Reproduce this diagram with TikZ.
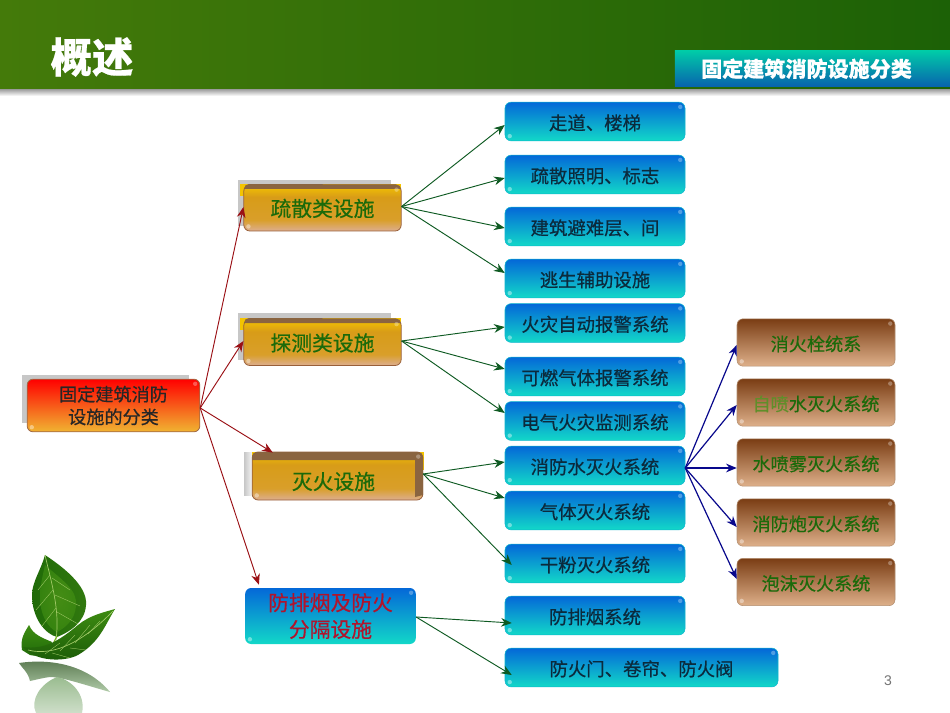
\documentclass[tikz,border=0pt]{standalone}
\usepackage{fontspec}
\setmainfont{Noto Sans CJK SC}[RawFeature={embolden=0.5}]
\newfontfamily\latinf{Liberation Sans}
\usetikzlibrary{arrows.meta,calc,fadings}
\definecolor{hdA}{HTML}{447A0A}
\definecolor{hdB}{HTML}{1C6106}
\definecolor{txtB}{HTML}{0B2A3C}
\definecolor{txtG}{HTML}{1B6A0A}
\definecolor{txtL}{HTML}{5F8F2A}
\definecolor{txtR}{HTML}{B0142C}
\definecolor{arR}{HTML}{9A0F14}
\definecolor{arG}{HTML}{0E5A22}
\definecolor{arB}{HTML}{08088C}
\definecolor{blTop}{HTML}{0468D8}
\definecolor{blBot}{HTML}{12D8C8}
\definecolor{brTop}{HTML}{7A3D14}
\definecolor{brBot}{HTML}{DEB08A}
\definecolor{orTop}{HTML}{F4C400}
\definecolor{orMid}{HTML}{D89C18}
\definecolor{orBot}{HTML}{DDAE90}
\definecolor{rtBot}{HTML}{F0B432}
\definecolor{leafD}{HTML}{1F6A08}
\definecolor{leafM}{HTML}{3E8C12}
\definecolor{leafL}{HTML}{7DB62A}
\definecolor{bdgTop}{HTML}{00CDA8}
\definecolor{bdgBot}{HTML}{0862AE}
\definecolor{bandC}{HTML}{8A6440}
\pgfdeclareverticalshading{orshade}{100bp}{color(0bp)=(orBot); color(25bp)=(orBot); color(37bp)=(orMid!85!orBot); color(62bp)=(orMid); color(75bp)=(orTop); color(100bp)=(orTop)}
\tikzset{
  x=0.75pt,y=-0.75pt,
  boxbase/.style={rounded corners=4.5pt,inner sep=0pt,align=center,text height=12.5pt,text depth=0pt},
  bluebox/.style={boxbase,top color=blTop,bottom color=blBot,draw=blBot!70!blTop,line width=.4pt,text=txtB,font=\fontsize{13.8}{16}\selectfont,minimum width=135pt,minimum height=29pt},
  brownbox/.style={boxbase,top color=brTop,bottom color=brBot,draw=brBot!80!black,line width=.4pt,text=txtG,font=\fontsize{13.6}{16}\selectfont,minimum width=118.5pt,minimum height=35.5pt},
  orangebox/.style={boxbase,shade,shading=orshade,draw=brTop!70!orBot,line width=.6pt,text=txtG,font=\fontsize{15.6}{18}\selectfont,minimum width=118pt,minimum height=34.5pt},
  rootbox/.style={rounded corners=4.5pt,inner sep=0pt,align=center,top color=red,bottom color=rtBot,draw=brTop!60!orBot,line width=.6pt,text=black!85,font=\fontsize{13.6}{17}\selectfont,minimum width=129.5pt,minimum height=39.5pt},
  smokebox/.style={rounded corners=4.5pt,inner sep=0pt,align=center,top color=blTop,bottom color=blBot,text=txtR,font=\fontsize{15.6}{20}\selectfont,minimum width=128pt,minimum height=42pt},
  arrowR/.style={-{Stealth[length=8pt,width=6.5pt]},draw=arR,line width=.7pt},
  arrowG/.style={-{Stealth[length=8pt,width=6.5pt]},draw=arG,line width=.7pt},
  arrowB/.style={-{Stealth[length=8pt,width=6.5pt]},draw=arB,line width=.9pt},
  vein/.style={draw=leafL!70!white,line width=.25pt},
}
\begin{document}
\begin{tikzpicture}
\useasboundingbox (0,0) rectangle (950,713);
\fill[white] (0,0) rectangle (950,713);
% header
\shade[top color=black!45,bottom color=white] (0,88) rectangle (950,96);
\shade[left color=hdA,right color=hdB] (0,0) rectangle (950,89);
\node[text=white,font=\fontsize{31}{33}\selectfont\bfseries,inner sep=0pt] (title) at (92,57) {概述};
\node[top color=bdgTop,bottom color=bdgBot,minimum width=206.5pt,minimum height=27.5pt,inner sep=0pt,text height=12.5pt,text depth=0pt,text=white,font=\fontsize{15.8}{18}\selectfont\bfseries] (badge) at (812.5,68.5) {固定建筑消防设施分类\hspace*{9pt}};
% backing layers of the raised boxes
\fill[black!22] (22,375) rectangle (189,423);
\fill[black!22] (238,180) rectangle (391,200);
\fill[black!22] (238,180) rectangle (246,226);
\fill[orTop] (240,184) rectangle (401,196);
\fill[black!22] (238,313) rectangle (391,333);
\fill[black!22] (238,313) rectangle (246,360);
\fill[orTop] (240,318) rectangle (401,330);
\shade[left color=black!22,right color=white] (244,452) rectangle (254,495);
\fill[orTop] (252,452) rectangle (424,470);
% nodes
\node[rootbox] (root) at (113.5,405.5) {固定建筑消防\\设施的分类};
\node[orangebox] (shus) at (322.5,208) {疏散类设施};
\node[orangebox] (tanc) at (322.5,342.5) {探测类设施};
\node[orangebox,minimum width=128pt,minimum height=36pt,text height=20pt] (miehuo) at (337.5,476) {\hspace*{-6pt}灭火设施};
\fill[bandC] (252,460) -- (252,457) arc[start angle=180,end angle=270,radius=5] -- (418,452) arc[start angle=-90,end angle=0,radius=5] -- (423,495) -- (415,497) -- (415,460) -- cycle;
\fill[bandC] (244,189) arc[start angle=180,end angle=270,radius=5] -- (396,184.5) arc[start angle=-90,end angle=0,radius=5] -- (401,189) -- cycle;
\fill[bandC] (244,323) arc[start angle=180,end angle=270,radius=5] -- (396,318.5) arc[start angle=-90,end angle=0,radius=5] -- (401,323) -- cycle;
\node[smokebox] (smoke) at (330.5,616) {防排烟及防火\\分隔设施};
\node[bluebox] (b1) at (595,121.5) {走道、楼梯};
\node[bluebox] (b2) at (595,174.5) {疏散照明、标志};
\node[bluebox] (b3) at (595,226.5) {建筑避难层、间};
\node[bluebox] (b4) at (595,278.5) {逃生辅助设施};
\node[bluebox] (c1) at (595,323) {火灾自动报警系统};
\node[bluebox] (c2) at (595,376.5) {可燃气体报警系统};
\node[bluebox] (c3) at (595,421) {电气火灾监测系统};
\node[bluebox] (d1) at (595,465.5) {消防水灭火系统};
\node[bluebox] (d2) at (595,510.5) {气体灭火系统};
\node[bluebox] (d3) at (595,563.5) {干粉灭火系统};
\node[bluebox] (e1) at (595,615.5) {防排烟系统};
\node[bluebox,minimum width=204.75pt] (e2) at (641.5,667.5) {防火门、卷帘、防火阀};
\node[brownbox] (f1) at (816,342.5) {消火栓统系};
\node[brownbox] (f2) at (816,402.5) {\textcolor{txtL}{自喷}水灭火系统};
\node[brownbox] (f3) at (816,462.5) {水喷雾灭火系统};
\node[brownbox] (f4) at (816,522.5) {消防炮灭火系统};
\node[brownbox] (f5) at (816,582) {泡沫灭火系统};
\foreach \n in {b1,b2,b3,b4,c1,c2,c3,d1,d2,d3,e1,e2,f1,f2,f3,f4,f5,root,shus,tanc,miehuo,smoke}{
  \fill[white,opacity=.3] ($(\n.north east)+(-5,5)$) circle (2.2);
  \fill[white,opacity=.4] ($(\n.south west)+(5,-5)$) circle (2.2);
}
% connectors
\coordinate (toMie) at ($(miehuo.north west)+(21,1)$);
\coordinate (toSmoke) at ($(smoke.north west)+(14,-3)$);
\coordinate (fromRoot) at ($(root.east)+(0,2.5)$);
\draw[arrowR] (fromRoot) -- ($(shus.west)+(0,-1)$);
\draw[arrowR] (fromRoot) -- ($(tanc.west)+(0,-1.5)$);
\draw[arrowR] (fromRoot) -- (toMie);
\draw[arrowR] (fromRoot) -- (toSmoke);
\foreach \t/\dx/\dy in {b1/0/3.5,b2/0/3.5,b3/0/1.5,b4/0/-5.5}{\draw[arrowG] ($(shus.east)+(0,-1.5)$) -- ($(\t.west)+(\dx,\dy)$);}
\foreach \t/\dx/\dy in {c1/0/4,c2/0/-7.5,c3/0/-8}{\draw[arrowG] ($(tanc.east)+(0,-1.5)$) -- ($(\t.west)+(\dx,\dy)$);}
\foreach \t/\dx/\dy in {d1/0/-3.5,d2/0/-12.5,d3/7/1.5}{\draw[arrowG] ($(miehuo.east)+(0,-2)$) -- ($(\t.west)+(\dx,\dy)$);}
\foreach \t/\dx/\dy in {e1/7/7.5,e2/7/7.5}{\draw[arrowG] ($(smoke.east)+(0,1)$) -- ($(\t.west)+(\dx,\dy)$);}
\foreach \t/\dy in {f1/2.5,f2/2.5,f3/5.5,f4/4.5,f5/-3}{\draw[arrowB] ($(d1.east)+(0,2.5)$) -- ($(\t.west)+(0,\dy)$);}
% page number
\node[text=black!55,font=\latinf\fontsize{10.5}{12}\selectfont,inner sep=0pt] (pageno) at (888,681) {3};
% leaf reflection
\begin{scope}
\clip (0,660) rectangle (130,713);
\shade[top color=leafD!60!black!70!white,bottom color=leafD!35!white] (19,663) .. controls (45,659) and (85,662) .. (110,692) .. controls (85,685) and (62,677) .. (50,677) .. controls (42,678) and (35,680) .. (30,681) .. controls (28,672) and (22,668) .. (19,663) -- cycle;
\shade[top color=leafD!45!white,bottom color=leafD!22!white] (57,677) .. controls (72,680) and (86,695) .. (82,713) -- (36,713) .. controls (30,700) and (40,684) .. (57,677) -- cycle;
\end{scope}
% leaf
\shade[top color=leafM,bottom color=leafD] (22,650) .. controls (20,638) and (25,632) .. (29,625) .. controls (33,635) and (43,638) .. (52,642) .. controls (50,650) and (40,658) .. (30,655) -- cycle;
\shade[left color=leafD,right color=leafD!80!leafL] (45,555) .. controls (60,565) and (88,585) .. (86,605) .. controls (85,622) and (70,632) .. (57,637) .. controls (45,634) and (32,618) .. (32,595) .. controls (32,582) and (41,570) .. (45,555) -- cycle;
\shade[inner color=leafM!70!leafL,outer color=leafM,opacity=.7] (45,565) .. controls (62,580) and (78,590) .. (76,606) .. controls (75,620) and (65,628) .. (57,632) .. controls (48,628) and (40,615) .. (40,597) .. controls (40,585) and (43,575) .. (45,565) -- cycle;
\draw[vein,line width=.5pt] (45,555) .. controls (52,585) and (60,610) .. (56,640);
\foreach \a/\b/\c/\d in {50/575/38/590,53/590/36/610,56/608/42/626,52/578/70/590,55/595/80/606,57/612/78/624}{\draw[vein] (\a,\b) -- (\c,\d);}
\draw[leafL,line width=1pt] (57,636) -- (54,642);
\shade[bottom color=leafD!85!black,top color=leafM] (23,647) .. controls (45,650) and (60,640) .. (78,625) .. controls (90,615) and (105,612) .. (115,609) .. controls (105,625) and (100,642) .. (78,655) .. controls (65,662) and (35,662) .. (23,647) -- cycle;
\draw[vein,line width=.5pt] (28,650) .. controls (55,657) and (85,640) .. (113,611);
\foreach \a/\b/\c/\d in {45/654/60/643,60/651/75/635,75/643/90/625,88/634/100/621,52/653/70/658,70/648/86/650}{\draw[vein] (\a,\b) -- (\c,\d);}
\end{tikzpicture}
\end{document}
